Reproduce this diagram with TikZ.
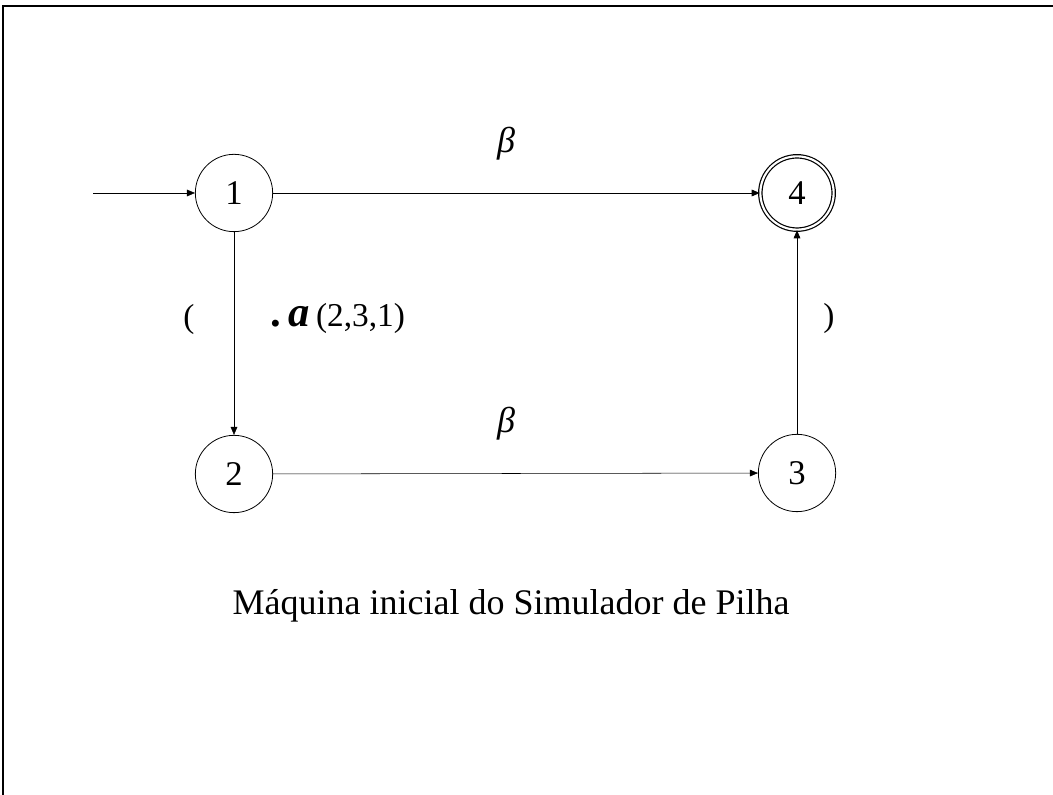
\documentclass[tikz,border=0pt]{standalone}
\usepackage{fontspec}
\setmainfont{Liberation Serif}
\usetikzlibrary{arrows.meta}

\begin{document}
\begin{tikzpicture}[x=0.75pt, y=0.75pt, >={Triangle[length=6pt,width=5pt]},
    state/.style={draw, circle, line width=0.6pt, minimum size=58pt, inner sep=0pt, font=\fontsize{26}{30}\selectfont},
    lbl/.style={font=\fontsize{25}{29}\selectfont}]
            \useasboundingbox (0,0) rectangle (1053,795);
            \draw[line width=1.5pt] (3,0) -- (3,789) -- (1053,789);
            \node[state] (n1) at (234,602) {1};
            \node[state] (n2) at (234,321) {2};
            \node[state] (n3) at (797,322) {3};
            \node[state, double, double distance=1.6pt, line width=0.9pt, minimum size=55pt] (n4) at (797,602) {4};
            \coordinate (start) at (93,602);
            \draw[thin, ->] (start) -- (n1);
            \draw[thin, ->] (n1) -- (n4);
            \draw[thin, ->] (n1) -- (n2);
            \draw[thin, ->] (n2) -- (n3);
            \draw[thin, ->] (n3) -- (n4);
            \node[lbl, font=\fontsize{27}{30}\selectfont] (b14) at (506,651) {\itshape β};
            \node[lbl, font=\fontsize{27}{30}\selectfont] (b23) at (506,371) {\itshape β};
            \node[lbl] (open) at (189,476) {(};
            \node[lbl] (close) at (829,477) {)};
            \node[lbl, anchor=base west, inner sep=0pt] (push) at (270,468) {{\fontsize{32}{36}\selectfont\bfseries .\,\itshape a}\hspace{5pt}(2,3,1)};
            \node[font=\fontsize{27}{32}\selectfont, anchor=base] (caption) at (511,180) {Máquina inicial do Simulador de Pilha};
        \end{tikzpicture}
\end{document}
